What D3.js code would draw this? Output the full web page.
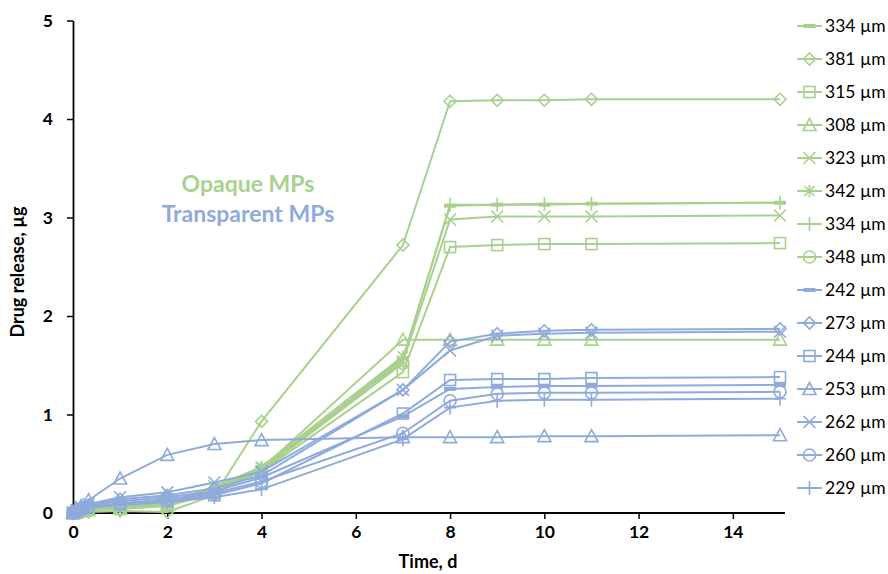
<!DOCTYPE html>
<html><head><meta charset="utf-8">
<script src="https://cdn.jsdelivr.net/npm/d3@7"></script>
<style>body{margin:0;background:#fff;}svg{display:block;font-family:Lato,"Open Sans",sans-serif;}</style>
</head><body><svg id="c" width="888" height="574"></svg>
<script>
const times = [0, 0.08, 0.17, 0.33, 1, 2, 3, 4, 7, 8, 9, 10, 11, 15];
const seriesNames = ["334 µm","381 µm","315 µm","308 µm","323 µm","342 µm","334 µm","348 µm",
                     "242 µm","273 µm","244 µm","253 µm","262 µm","260 µm","229 µm"];
const seriesGroup = ["o","o","o","o","o","o","o","o","t","t","t","t","t","t","t"];
const seriesMarker = ["dash","diamond","square","triangle","x","star","plus","circle",
                      "dash","diamond","square","triangle","x","circle","plus"];
const v334a = [0,0.01,0.02,0.03,0.05,0.08,0.24,0.44,1.57,3.12,3.13,3.13,3.14,3.15];
const v381 = [0,0,0.01,0.01,0.02,0.01,0.18,0.93,2.72,4.18,4.19,4.19,4.20,4.20];
const v315 = [0,0.01,0.02,0.03,0.04,0.07,0.20,0.42,1.43,2.70,2.72,2.73,2.73,2.74];
const v308 = [0,0.01,0.02,0.03,0.05,0.09,0.25,0.45,1.76,1.76,1.76,1.76,1.76,1.76];
const v323 = [0,0.01,0.02,0.04,0.06,0.10,0.27,0.46,1.54,2.98,3.01,3.01,3.01,3.02];
const v342 = [0,0.01,0.02,0.04,0.06,0.10,0.26,0.47,1.59];
const v334b = [0,0.01,0.02,0.03,0.05,0.08,0.23,0.43,1.56,3.13,3.13,3.14,3.14,3.15];
const v348 = [0,0.01,0.02,0.03,0.05,0.08,0.22,0.43,1.52];
const v242 = [0,0.02,0.05,0.07,0.12,0.16,0.22,0.36,0.98,1.26,1.28,1.29,1.29,1.30];
const v273 = [0,0.02,0.05,0.08,0.14,0.18,0.25,0.38,1.25,1.74,1.82,1.85,1.86,1.87];
const v244 = [0,0.02,0.04,0.06,0.09,0.12,0.18,0.30,1.01,1.35,1.36,1.36,1.37,1.38];
const v253 = [0,0.03,0.07,0.13,0.35,0.59,0.70,0.74,0.77,0.77,0.77,0.78,0.78,0.79];
const v262 = [0,0.03,0.06,0.09,0.16,0.21,0.31,0.42,1.25,1.65,1.80,1.82,1.83,1.84];
const v260 = [0,0.02,0.04,0.06,0.10,0.14,0.20,0.32,0.81,1.14,1.21,1.22,1.22,1.23];
const v229 = [0,0.02,0.03,0.05,0.08,0.11,0.16,0.24,0.75,1.07,1.14,1.15,1.15,1.16];
const seriesValues = [v334a,v381,v315,v308,v323,v342,v334b,v348,v242,v273,v244,v253,v262,v260,v229];
const xTicks = [0,2,4,6,8,10,12,14];
const yTicks = [0,1,2,3,4,5];

const colors = {o:"#A9D18E", t:"#8FAADC"};
const svg = d3.select("#c");
const x = d3.scaleLinear().domain([0,15]).range([73,780]);
const y = d3.scaleLinear().domain([0,5]).range([513,20.5]);

// axes
const gx = svg.append("g").attr("transform","translate(0,513)")
  .call(d3.axisBottom(x).tickValues(xTicks).tickFormat(d3.format("d")).tickSize(6).tickPadding(7).tickSizeOuter(0));
const gy = svg.append("g").attr("transform","translate(73,0)")
  .call(d3.axisLeft(y).tickValues(yTicks).tickFormat(d3.format("d")).tickSize(6).tickPadding(14).tickSizeOuter(0));
[gx,gy].forEach(g=>{
  g.select(".domain").attr("stroke","#000").attr("stroke-width",1.8);
  g.selectAll(".tick line").attr("stroke","#000").attr("stroke-width",1.5);
  g.selectAll(".tick text").attr("font-size",17.5).attr("font-weight","bold").attr("fill","#000")
   .attr("font-family","Lato, sans-serif");
});
gx.select(".domain").attr("d","M73,0H785");

svg.append("text").attr("x",428).attr("y",568).attr("text-anchor","middle")
  .attr("font-size",18).attr("font-weight","bold").text("Time, d");
svg.append("text").attr("transform","translate(24,272) rotate(-90)").attr("text-anchor","middle")
  .attr("font-size",18).attr("font-weight","bold").text("Drug release, µg");

svg.append("text").attr("x",248).attr("y",192).attr("text-anchor","middle")
  .attr("font-size",23).attr("font-weight","bold").attr("fill",colors.o).text("Opaque MPs");
svg.append("text").attr("x",248).attr("y",222).attr("text-anchor","middle")
  .attr("font-size",23).attr("font-weight","bold").attr("fill",colors.t).text("Transparent MPs");

function drawMarker(g, type, col){
  const sw = 1.6;
  switch(type){
    case "dash": g.append("rect").attr("x",-6).attr("y",-2).attr("width",12).attr("height",4).attr("fill",col); break;
    case "diamond": g.append("path").attr("d","M0,-6L6,0L0,6L-6,0Z").attr("fill","none").attr("stroke",col).attr("stroke-width",sw); break;
    case "square": g.append("rect").attr("x",-5.5).attr("y",-5.5).attr("width",11).attr("height",11).attr("fill","none").attr("stroke",col).attr("stroke-width",sw); break;
    case "triangle": g.append("path").attr("d","M0,-6.5L6.5,5.5L-6.5,5.5Z").attr("fill","none").attr("stroke",col).attr("stroke-width",sw); break;
    case "x": g.append("path").attr("d","M-6,-6L6,6M-6,6L6,-6").attr("fill","none").attr("stroke",col).attr("stroke-width",sw); break;
    case "star": g.append("path").attr("d","M-5,-5L5,5M-5,5L5,-5M0,-6L0,6").attr("fill","none").attr("stroke",col).attr("stroke-width",sw); break;
    case "plus": g.append("path").attr("d","M-6,0L6,0M0,-7L0,7").attr("fill","none").attr("stroke",col).attr("stroke-width",sw); break;
    case "circle": g.append("circle").attr("r",6).attr("fill","none").attr("stroke",col).attr("stroke-width",sw); break;
  }
}

const line = d3.line().x(d=>x(d[0])).y(d=>y(d[1]));
seriesValues.forEach((vals,i)=>{
  const col = colors[seriesGroup[i]];
  const pts = vals.map((v,j)=>[times[j],v]);
  const g = svg.append("g");
  g.append("path").attr("d",line(pts)).attr("fill","none").attr("stroke",col).attr("stroke-width",2);
  pts.forEach(p=>{
    const m = g.append("g").attr("transform",`translate(${x(p[0])},${y(p[1])})`);
    drawMarker(m, seriesMarker[i], col);
  });
});

// legend
const leg = svg.append("g");
seriesNames.forEach((n,i)=>{
  const col = colors[seriesGroup[i]];
  const yy = 26 + i*33;
  leg.append("line").attr("x1",797).attr("x2",822).attr("y1",yy).attr("y2",yy).attr("stroke",col).attr("stroke-width",2);
  const m = leg.append("g").attr("transform",`translate(809.5,${yy})`);
  drawMarker(m, seriesMarker[i], col);
  leg.append("text").attr("x",825).attr("y",yy+6).attr("font-size",17.5).attr("fill","#000")
    .attr("font-family","Lato, sans-serif").text(n);
});
</script></body></html>
